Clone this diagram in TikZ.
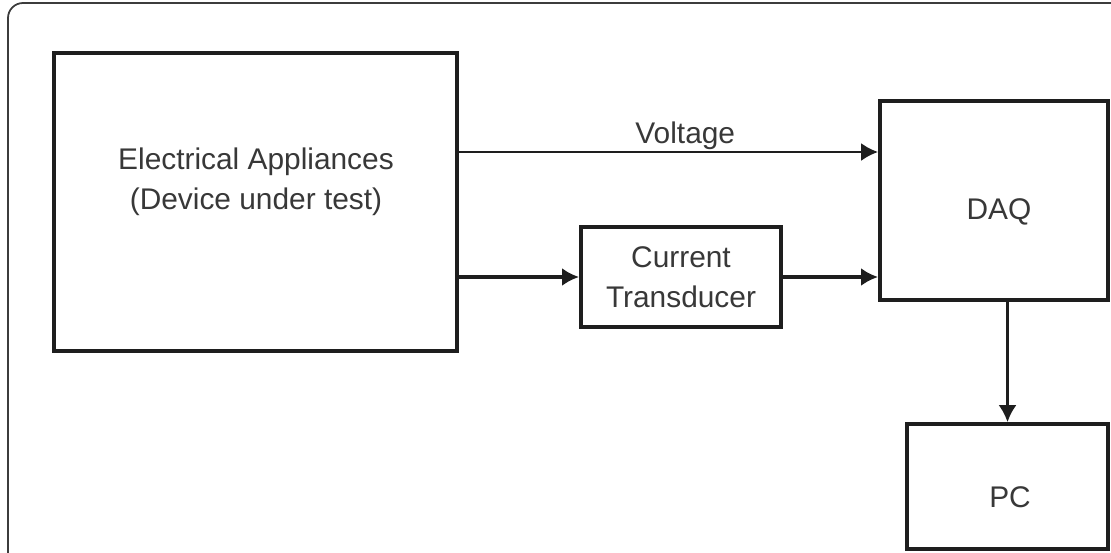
\documentclass[tikz,border=0pt]{standalone}
\usepackage{fontspec}
\setmainfont{Liberation Sans}
\usetikzlibrary{arrows.meta}
\definecolor{ink}{HTML}{1E1E1E}
\definecolor{txt}{HTML}{383838}
\definecolor{frame}{HTML}{3C3C3C}
\begin{document}
\begin{tikzpicture}[x=0.02cm,y=-0.02cm,
  box/.style={draw=ink,line width=2.2pt,inner sep=0pt},
  lbl/.style={text=txt,font=\fontsize{17}{23}\selectfont,align=center,inner sep=0pt},
  sig/.style={draw=ink,line width=1.4pt,-{Latex[length=3.4mm,width=3.6mm]}},
  sigb/.style={sig,line width=2.1pt}]
\useasboundingbox (0,0) rectangle (1111,552);
\clip (0,0) rectangle (1111,552);
% frame
\draw [frame,line width=1pt,rounded corners=0.3cm] (8,3) rectangle (1140,580);
% blocks
\node [box,minimum width=8.06cm,minimum height=5.96cm] (elec) at (255.5,202) {};
\node [lbl] (electxt) at (256,182) {Electrical Appliances\\(Device under test)};
\node [box,minimum width=4cm,minimum height=2cm,lbl] (ct) at (681,277) {Current\\Transducer};
\node [box,minimum width=4.56cm,minimum height=3.98cm] (daq) at (994,200.5) {};
\node [lbl] (daqtxt) at (999,212) {DAQ};
\node [box,minimum width=4.02cm,minimum height=2.5cm] (pc) at (1007.5,486.5) {};
\node [lbl] (pctxt) at (1010,497) {PC};
\coordinate (vy) at (0,152);
% signals
\draw [sig] (elec.east |- vy) -- node[lbl,pos=0.54,above=0.5pt] (vlt) {Voltage} (daq.west |- vy);
\draw [sigb] (elec.east |- ct.west) -- (ct.west);
\draw [sigb] (ct.east) -- (daq.west |- ct.east);
\draw [sig] (pc.north |- daq.south) -- (pc.north);
\end{tikzpicture}
\end{document}
